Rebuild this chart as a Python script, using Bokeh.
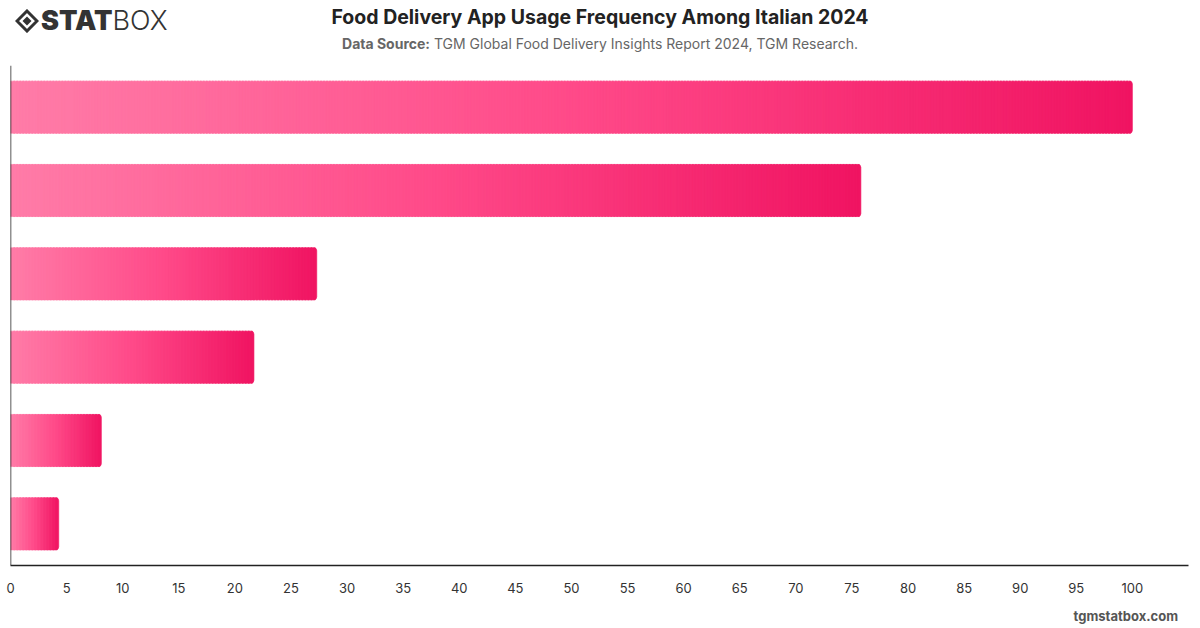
from bokeh.plotting import figure
from bokeh.models import Range1d, FixedTicker, Span, ColumnDataSource, Div
from bokeh.layouts import column
from bokeh.embed import file_html
from bokeh.resources import INLINE

# ---- data ----
bar_index = [0, 1, 2, 3, 4, 5]
values = [100.0, 75.8, 27.3, 21.7, 8.1, 4.3]
x_ticks = [0, 5, 10, 15, 20, 25, 30, 35, 40, 45, 50, 55, 60, 65, 70, 75, 80, 85, 90, 95, 100]

title_text = "Food Delivery App Usage Frequency Among Italian 2024"
source_bold = "Data Source:"
source_text = "TGM Global Food Delivery Insights Report 2024, TGM Research."
footer_text = "tgmstatbox.com"

# ---- gradient helpers ----
stops = [(0.0, (255, 124, 168)), (0.5, (255, 74, 137)), (1.0, (240, 20, 98))]

def grad(t):
    for (t0, c0), (t1, c1) in zip(stops[:-1], stops[1:]):
        if t <= t1:
            f = (t - t0) / (t1 - t0)
            return "#%02x%02x%02x" % tuple(int(round(a + (b - a) * f)) for a, b in zip(c0, c1))
    return "#%02x%02x%02x" % stops[-1][1]

segs = dict(y=[], left=[], right=[], color=[])
ends = dict(y=[], left=[], right=[], color=[])
for yi, v in zip(bar_index, values):
    N = max(6, int(v * 11.2 / 3))
    for i in range(N):
        l = v * i / N
        r = min(v, v * (i + 1.5) / N)
        d = segs if i < N - 1 else ends
        d["y"].append(yi)
        d["left"].append(l)
        d["right"].append(r)
        d["color"].append(grad((i + 0.5) / N))

HEADER_H, FOOTER_H = 60, 28
FIG_H = 628 - HEADER_H - FOOTER_H

p = figure(width=1200, height=FIG_H, output_backend="svg", toolbar_location=None,
           x_range=Range1d(0, 105), y_range=Range1d(5.5, -0.5),
           min_border_left=10, min_border_right=12, min_border_top=5, min_border_bottom=35)
p.background_fill_color = "white"
p.border_fill_color = "white"
p.outline_line_color = None
p.grid.visible = False

p.hbar(y="y", left="left", right="right", height=0.625, fill_color="color",
       line_color="color", line_width=0.6, source=ColumnDataSource(segs))
p.hbar(y="y", left="left", right="right", height=0.625, fill_color="color",
       line_color="color", line_width=0.6, border_radius=(0, 4, 4, 0),
       source=ColumnDataSource(ends))

p.yaxis.visible = False
p.add_layout(Span(location=0, dimension="height", line_color="#222222", line_width=1.5))

xa = p.xaxis[0]
xa.ticker = FixedTicker(ticks=x_ticks)
xa.major_tick_line_color = None
xa.minor_tick_line_color = None
xa.axis_line_color = "#222222"
xa.axis_line_width = 1.5
xa.major_label_text_font = "Inter"
xa.major_label_text_font_size = "13px"
xa.major_label_text_color = "#333333"
xa.major_label_standoff = 11

logo_svg = (
    '<svg width="24" height="24" viewBox="0 0 24 24" style="position:absolute;left:15px;top:9px">'
    '<path d="M12 2 L22 12 L12 22 L2 12 Z" fill="none" stroke="#333" stroke-width="3" stroke-linejoin="miter"/>'
    '<path d="M12 7.5 L16.5 12 L12 16.5 L7.5 12 Z" fill="#333"/>'
    '</svg>'
)

header_html = (
    f'<div style="position:relative;width:1200px;height:{HEADER_H}px;font-family:Inter,sans-serif;">'
    + logo_svg +
    '<div style="position:absolute;left:41px;top:4px;font-size:27px;line-height:34px;color:#333;">'
    '<span style="font-weight:900;">STAT</span><span style="font-weight:300;">BOX</span></div>'
    f'<div style="position:absolute;left:0;width:1200px;top:5px;text-align:center;font-size:19.5px;'
    f'line-height:24px;font-weight:700;color:#222;">{title_text}</div>'
    f'<div style="position:absolute;left:0;width:1200px;top:35px;text-align:center;font-size:14px;'
    f'line-height:18px;color:#666;"><b>{source_bold}</b> {source_text}</div>'
    '</div>'
)
footer_html = (
    f'<div style="position:relative;width:1200px;height:{FOOTER_H}px;font-family:Inter,sans-serif;">'
    f'<div style="position:absolute;right:22px;top:7px;font-size:13px;line-height:18px;'
    f'font-weight:700;color:#555;">{footer_text}</div></div>'
)

header = Div(text=header_html, width=1200, height=HEADER_H, margin=0)
footer = Div(text=footer_html, width=1200, height=FOOTER_H, margin=0)

layout = column(header, p, footer, spacing=0, margin=0)
open("out.html", "w").write(file_html(layout, INLINE))
